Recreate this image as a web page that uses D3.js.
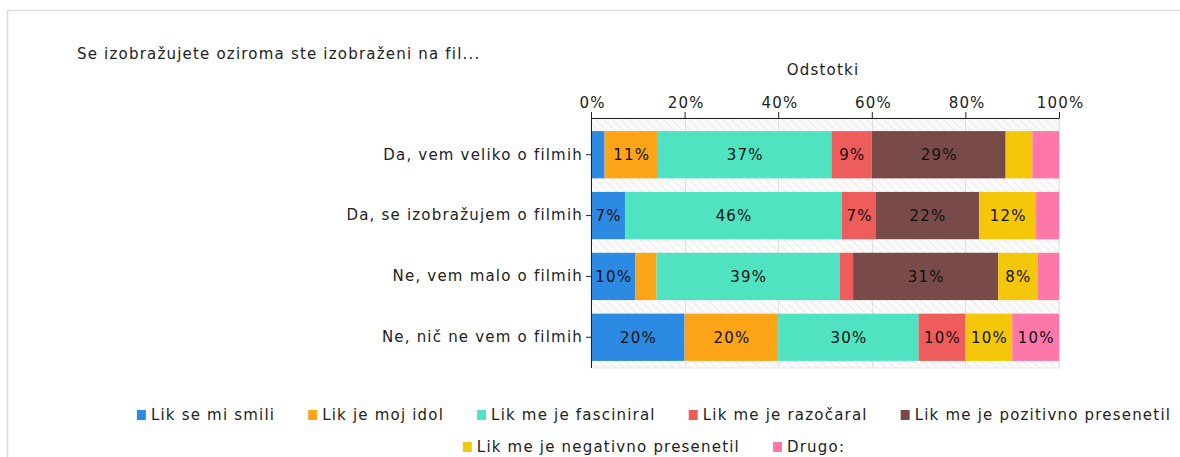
<!DOCTYPE html>
<html>
<head>
<meta charset="utf-8">
<script src="https://cdn.jsdelivr.net/npm/d3@7"></script>
<style>
  body { margin: 0; background: #fff; }
  svg { font-family: "DejaVu Sans", Verdana, sans-serif; letter-spacing: 1.2px; }
</style>
</head>
<body>
<div id="chart"></div>
<script>
// data (shares in % per answer)
const categories = ["Da, vem veliko o filmih", "Da, se izobražujem o filmih", "Ne, vem malo o filmih", "Ne, nič ne vem o filmih"];
const seriesNames = ["Lik se mi smili", "Lik je moj idol", "Lik me je fasciniral", "Lik me je razočaral", "Lik me je pozitivno presenetil", "Lik me je negativno presenetil", "Drugo:"];
const seriesColors = ["#2d8ae3", "#fda518", "#50e3c2", "#ee5c5c", "#784a48", "#f4c70b", "#fd78a9"];
const smili = [2.9, 7.3, 9.5, 20];
const idol = [11.4, 0, 4.5, 20];
const fasciniral = [37.1, 46.3, 39.2, 30];
const razocaral = [8.6, 7.3, 2.8, 10];
const pozitivno = [28.6, 22.0, 31.0, 0];
const negativno = [5.7, 12.2, 8.4, 10];
const drugo = [5.7, 4.9, 4.6, 10];
const xTicks = [0, 20, 40, 60, 80, 100];

const seriesValues = [smili, idol, fasciniral, razocaral, pozitivno, negativno, drugo];

const config = {
  width: 1180,
  height: 457,
  plot: { left: 591, right: 1059, top: 118, bottom: 368 },
  textColor: "#222",
  fontSize: 15
};

const svg = d3.select("#chart").append("svg")
  .attr("width", config.width)
  .attr("height", config.height);

// hatch pattern for plot background
const defs = svg.append("defs");
const pat = defs.append("pattern")
  .attr("id", "hatch")
  .attr("patternUnits", "userSpaceOnUse")
  .attr("width", 6).attr("height", 6)
  .attr("patternTransform", "rotate(-45)");
pat.append("rect").attr("width", 6).attr("height", 6).attr("fill", "#fafafa");
pat.append("line").attr("x1", 0).attr("y1", 0).attr("x2", 0).attr("y2", 6)
  .attr("stroke", "#ececec").attr("stroke-width", 2);

// outer frame
svg.append("path")
  .attr("d", "M7.5,457 L7.5,10.5 L1180,10.5")
  .attr("fill", "none")
  .attr("stroke", "#dcdcdc")
  .attr("stroke-width", 1.5);

svg.append("text")
  .attr("x", 77).attr("y", 59)
  .attr("font-size", config.fontSize)
  .attr("fill", config.textColor)
  .text("Se izobražujete oziroma ste izobraženi na fil...");

const x = d3.scaleLinear().domain([0, 100]).range([config.plot.left, config.plot.right]);
const y = d3.scaleBand().domain(categories)
  .range([125, 367])
  .paddingInner(0.223)
  .paddingOuter(0.1);

const p = config.plot;

svg.append("rect")
  .attr("x", p.left).attr("y", p.top)
  .attr("width", p.right - p.left).attr("height", p.bottom - p.top)
  .attr("fill", "url(#hatch)")
  .attr("stroke", "#e6e6e6");

// gridlines
svg.append("g").selectAll("line")
  .data(xTicks.slice(1))
  .join("line")
  .attr("x1", d => Math.round(x(d)) + 0.5).attr("x2", d => Math.round(x(d)) + 0.5)
  .attr("y1", p.top).attr("y2", p.bottom)
  .attr("stroke", "#e2e2e2");

// stacked bars
const rows = categories.map((c, i) => {
  let acc = 0;
  return seriesValues.map((vals, s) => {
    const seg = { cat: c, s: s, x0: acc, x1: acc + vals[i], v: vals[i] };
    acc += vals[i];
    return seg;
  });
}).flat();

svg.append("g").selectAll("rect")
  .data(rows.filter(d => d.v > 0))
  .join("rect")
  .attr("x", d => x(d.x0))
  .attr("y", d => y(d.cat))
  .attr("width", d => x(d.x1) - x(d.x0))
  .attr("height", y.bandwidth())
  .attr("fill", d => seriesColors[d.s]);

svg.append("g").selectAll("text")
  .data(rows.filter(d => d.v >= 6.5))
  .join("text")
  .attr("x", d => (x(d.x0) + x(d.x1)) / 2 + 0.6)
  .attr("y", d => y(d.cat) + y.bandwidth() / 2)
  .attr("dy", "0.36em")
  .attr("text-anchor", "middle")
  .attr("font-size", config.fontSize)
  .attr("fill", "#111")
  .text(d => Math.round(d.v) + "%");

// top axis
const xAxis = svg.append("g")
  .attr("transform", `translate(0,${p.top})`)
  .call(d3.axisTop(x).tickValues(xTicks).tickFormat(d => d + "%").tickSize(6).tickSizeOuter(0));
xAxis.select(".domain").attr("stroke", "#222");
xAxis.selectAll(".tick line").attr("stroke", "#222");
xAxis.selectAll("text")
  .attr("font-size", config.fontSize)
  .attr("font-family", "DejaVu Sans, Verdana, sans-serif")
  .attr("fill", config.textColor)
  .attr("dx", "0.08em")
  .attr("dy", "-0.05em");

svg.append("text")
  .attr("x", (p.left + p.right) / 2 - 2)
  .attr("y", 75)
  .attr("text-anchor", "middle")
  .attr("font-size", config.fontSize)
  .attr("fill", config.textColor)
  .text("Odstotki");

// left axis
const yAxis = svg.append("g")
  .attr("transform", `translate(${p.left},0)`)
  .call(d3.axisLeft(y).tickSize(5).tickSizeOuter(0));
yAxis.select(".domain").attr("d", `M0.5,${p.top}V${p.bottom}`).attr("stroke", "#222");
yAxis.selectAll(".tick line").attr("stroke", "#222");
yAxis.selectAll("text")
  .attr("font-size", config.fontSize)
  .attr("font-family", "DejaVu Sans, Verdana, sans-serif")
  .attr("fill", config.textColor)
  .attr("x", -8);

// legend, two centred rows
const legendRows = [[0, 1, 2, 3, 4], [5, 6]];
const legendY = [415, 447];
const legendCenter = 654;
const gap = 33;
legendRows.forEach((row, r) => {
  const g = svg.append("g");
  const items = g.selectAll("g")
    .data(row)
    .join("g");
  items.append("rect")
    .attr("y", legendY[r] - 5)
    .attr("width", 9).attr("height", 10)
    .attr("fill", d => seriesColors[d]);
  items.append("text")
    .attr("x", 14)
    .attr("y", legendY[r])
    .attr("dy", "0.36em")
    .attr("font-size", config.fontSize)
    .attr("fill", config.textColor)
    .text(d => seriesNames[d]);
  const widths = items.nodes().map(n => 14 + d3.select(n).select("text").node().getComputedTextLength());
  const total = d3.sum(widths) + gap * (widths.length - 1);
  let cx = legendCenter - total / 2;
  items.attr("transform", (d, i) => {
    const t = `translate(${cx},0)`;
    cx += widths[i] + gap;
    return t;
  });
});
</script>
</body>
</html>
